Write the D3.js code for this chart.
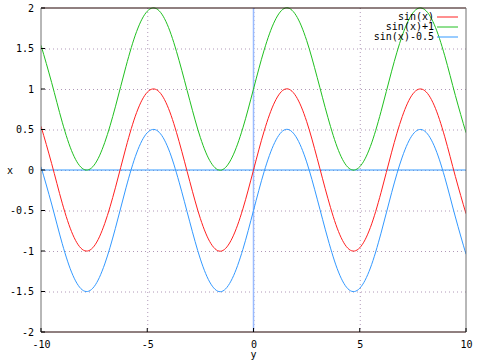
<!DOCTYPE html>
<html>
<head>
<meta charset="utf-8">
<script src="https://cdn.jsdelivr.net/npm/d3@7"></script>
<style>
  body { margin: 0; background: #fff; }
  text { font-family: "DejaVu Sans Mono", monospace; font-size: 10px; fill: #000; }
</style>
</head>
<body>
<div class="chart"></div>
<script>
// x 取樣點 (-10 到 10，每 0.5)
const xs = d3.range(-10, 10.001, 0.5);
// 三條曲線數值
const sinVals = [0.54, 0.08, -0.41, -0.80, -0.99, -0.94, -0.66, -0.22, 0.28, 0.71, 0.96, 0.98, 0.76, 0.35, -0.14, -0.60, -0.91, -1.00, -0.84, -0.48,
  0, 0.48, 0.84, 1.00, 0.91, 0.60, 0.14, -0.35, -0.76, -0.98, -0.96, -0.71, -0.28, 0.22, 0.66, 0.94, 0.99, 0.80, 0.41, -0.08, -0.54];
const sinPlus1 = [1.54, 1.08, 0.59, 0.20, 0.01, 0.06, 0.34, 0.78, 1.28, 1.71, 1.96, 1.98, 1.76, 1.35, 0.86, 0.40, 0.09, 0.00, 0.16, 0.52,
  1.00, 1.48, 1.84, 2.00, 1.91, 1.60, 1.14, 0.65, 0.24, 0.02, 0.04, 0.29, 0.72, 1.22, 1.66, 1.94, 1.99, 1.80, 1.41, 0.92, 0.46];
const sinMinusHalf = [0.04, -0.42, -0.91, -1.30, -1.49, -1.44, -1.16, -0.72, -0.22, 0.21, 0.46, 0.48, 0.26, -0.15, -0.64, -1.10, -1.41, -1.50, -1.34, -0.98,
  -0.50, -0.02, 0.34, 0.50, 0.41, 0.10, -0.36, -0.85, -1.26, -1.48, -1.46, -1.21, -0.78, -0.28, 0.16, 0.44, 0.49, 0.30, -0.09, -0.58, -1.04];
const seriesNames = ['sin(x)', 'sin(x)+1', 'sin(x)-0.5'];
const seriesColors = ['#ff2020', '#20c020', '#3399ff'];
const xTicks = [-10, -5, 0, 5, 10];
const yTicks = [-2, -1.5, -1, -0.5, 0, 0.5, 1, 1.5, 2];

const W = 480, H = 360;
const pL = 41, pR = 466, pT = 8, pB = 332;

const svg = d3.select('.chart').append('svg')
  .attr('width', W).attr('height', H);

const x = d3.scaleLinear().domain([-10, 10]).range([pL, pR]);
const y = d3.scaleLinear().domain([-2, 2]).range([pB, pT]);

// 格線 (點線)
svg.append('g').selectAll('line').data(xTicks.slice(1, -1))
  .enter().append('line')
  .attr('x1', d => x(d) + 0.5).attr('x2', d => x(d) + 0.5)
  .attr('y1', pT).attr('y2', pB)
  .attr('stroke', '#b098b8').attr('stroke-dasharray', '1,3');
svg.append('g').selectAll('line').data(yTicks.slice(1, -1))
  .enter().append('line')
  .attr('x1', pL).attr('x2', pR)
  .attr('y1', d => y(d) + 0.5).attr('y2', d => y(d) + 0.5)
  .attr('stroke', '#b098b8').attr('stroke-dasharray', '1,3');

// 零軸
svg.append('line').attr('x1', x(0)).attr('x2', x(0))
  .attr('y1', pT).attr('y2', pB)
  .attr('stroke', '#99bbff').attr('stroke-width', 1.5);
svg.append('line').attr('x1', pL).attr('x2', pR)
  .attr('y1', y(0)).attr('y2', y(0))
  .attr('stroke', '#3399ff');

// 曲線
svg.append('clipPath').attr('id', 'clip')
  .append('rect').attr('x', pL).attr('y', pT - 1)
  .attr('width', pR - pL).attr('height', pB - pT + 2);
const seriesData = [sinVals, sinPlus1, sinMinusHalf];
const line = d3.line()
  .x((d, i) => x(xs[i]))
  .y(d => y(d))
  .curve(d3.curveNatural);
svg.append('g').attr('clip-path', 'url(#clip)')
  .selectAll('path').data(seriesData)
  .enter().append('path')
  .attr('d', d => line(d))
  .attr('fill', 'none')
  .attr('stroke', (d, i) => seriesColors[i])
  .attr('stroke-width', 1);

// 外框
svg.append('line').attr('x1', pL).attr('x2', pR).attr('y1', pT).attr('y2', pT).attr('stroke', '#200000');
svg.append('line').attr('x1', pL).attr('x2', pR).attr('y1', pB).attr('y2', pB).attr('stroke', '#200000');
svg.append('line').attr('x1', pL).attr('x2', pL).attr('y1', pT).attr('y2', pB).attr('stroke', '#707070');
svg.append('line').attr('x1', pR).attr('x2', pR).attr('y1', pT).attr('y2', pB).attr('stroke', '#707070');

// 刻度
const xAxis = d3.axisBottom(x).tickValues(xTicks).tickFormat(d => d).tickSize(0).tickPadding(9);
svg.append('g').attr('transform', `translate(0,${pB})`).call(xAxis)
  .call(g => g.select('.domain').remove());
const yAxis = d3.axisLeft(y).tickValues(yTicks).tickFormat(d => d).tickSize(0).tickPadding(7);
svg.append('g').attr('transform', `translate(${pL},0)`).call(yAxis)
  .call(g => g.select('.domain').remove());
svg.selectAll('.tick text').attr('fill', '#000')
  .style('font-family', '"DejaVu Sans Mono", monospace').style('font-size', '10px');

// 內側小刻度
svg.append('g').selectAll('line').data(xTicks)
  .enter().append('line')
  .attr('x1', d => x(d)).attr('x2', d => x(d))
  .attr('y1', pB).attr('y2', pB - 4)
  .attr('stroke', '#000');
svg.append('g').selectAll('line').data(yTicks)
  .enter().append('line')
  .attr('x1', pL).attr('x2', pL + 4)
  .attr('y1', d => y(d)).attr('y2', d => y(d))
  .attr('stroke', '#000');

// 軸標籤
svg.append('text').text('x').attr('x', 10).attr('y', 174).attr('text-anchor', 'middle');
svg.append('text').text('y').attr('x', x(0)).attr('y', 358).attr('text-anchor', 'middle');

// 圖例
const legend = svg.append('g').selectAll('g').data(seriesNames)
  .enter().append('g')
  .attr('transform', (d, i) => `translate(0,${17 + i * 10})`);
legend.append('text').text(d => d)
  .attr('x', 434).attr('y', 0).attr('dy', '0.32em').attr('text-anchor', 'end');
legend.append('line')
  .attr('x1', 437).attr('x2', 458).attr('y1', 0).attr('y2', 0)
  .attr('stroke', (d, i) => seriesColors[i]);
</script>
</body>
</html>
